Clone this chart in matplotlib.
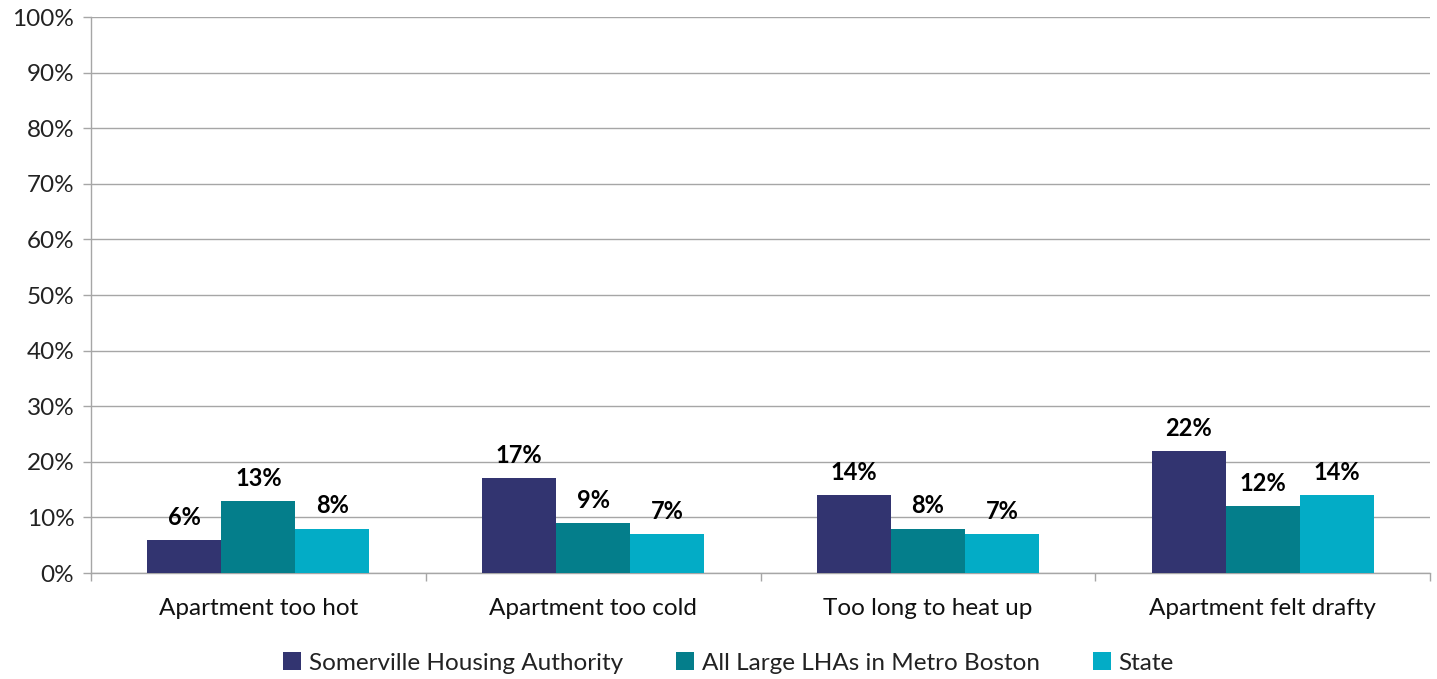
import matplotlib
matplotlib.use("Agg")
import matplotlib.pyplot as plt
import numpy as np

categories = ["Apartment too hot", "Apartment too cold", "Too long to heat up", "Apartment felt drafty"]
series_names = ["Somerville Housing Authority", "All Large LHAs in Metro Boston", "State"]
somerville = [6, 17, 14, 22]
metro_boston = [13, 9, 8, 12]
state = [8, 7, 7, 14]
yticks = [0, 10, 20, 30, 40, 50, 60, 70, 80, 90, 100]

colors = ["#323470", "#047E8B", "#03ACC6"]

plt.rcParams['font.family'] = ['Lato', 'DejaVu Sans']

fig = plt.figure(figsize=(14.37, 6.79), dpi=100)
ax = fig.add_axes([91/1437, 1 - 573/679, (1430 - 91)/1437, (573 - 17)/679])

x = np.arange(len(categories))
w = 0.221
data = [somerville, metro_boston, state]
for i, (vals, c, name) in enumerate(zip(data, colors, series_names)):
    pos = x + (i - 1) * w
    bars = ax.bar(pos, vals, width=w, color=c, label=name, zorder=3)
    for b, v in zip(bars, vals):
        ax.annotate(f"{v}%", (b.get_x() + b.get_width() / 2, v),
                    xytext=(0, 8), textcoords="offset points",
                    ha="center", va="bottom", fontsize=17, fontweight="bold",
                    color="#000000")

ax.set_xlim(-0.5, len(categories) - 0.5)
ax.set_ylim(0, 100)
ax.set_yticks(yticks)
ax.set_yticklabels([f"{t}%" for t in yticks], fontsize=17.5, color="#222222")
ax.yaxis.grid(True, color="#A6A6A6", linewidth=1, zorder=0)
ax.set_axisbelow(True)

ax.set_xticks(x)
ax.set_xticklabels(categories, fontsize=17.5, color="#111111")
ax.tick_params(axis="x", which="major", length=0, pad=18)
ax.set_xticks(np.arange(-0.5, len(categories)), minor=True)
ax.tick_params(axis="x", which="minor", length=6, color="#A6A6A6", width=1)
ax.tick_params(axis="y", length=6, color="#A6A6A6", width=1, pad=6)

for s in ["top", "right"]:
    ax.spines[s].set_visible(False)
for s in ["left", "bottom"]:
    ax.spines[s].set_color("#A6A6A6")
    ax.spines[s].set_linewidth(1)

leg = fig.legend(loc="center", bbox_to_anchor=(0.5 + 10/1437, 1 - 663/679), ncol=3,
                 frameon=False, fontsize=17.5, handlelength=0.75, handleheight=0.75,
                 handletextpad=0.3, columnspacing=2.2)
for t in leg.get_texts():
    t.set_color("#222222")

fig.savefig("out.png", dpi=100)
